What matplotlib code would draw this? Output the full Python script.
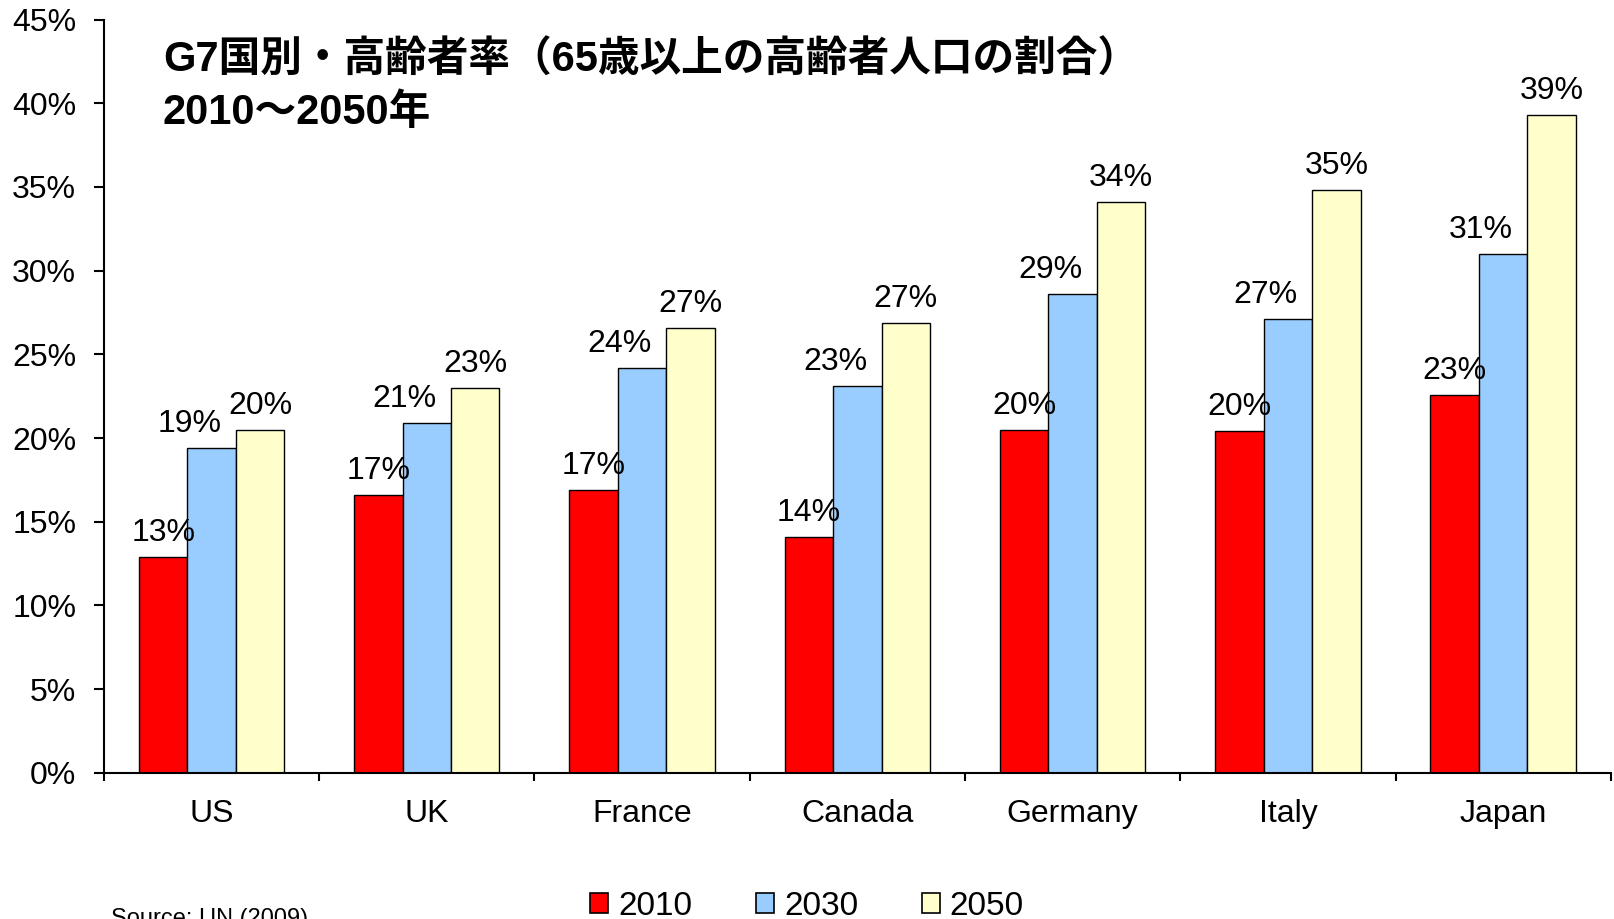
"""G7 국가별 고령자 비율(2010~2050) 막대그래프를 그려 out.png 로 저장합니다."""

import matplotlib.pyplot as plt
import numpy as np
from matplotlib.patches import Patch


# 그래프에 들어가는 데이터입니다. (그림에서 읽은 값, 단위: %)
countries = ["US", "UK", "France", "Canada", "Germany", "Italy", "Japan"]
years = ["2010", "2030", "2050"]
ratio_2010 = [12.9, 16.6, 16.9, 14.1, 20.5, 20.4, 22.6]
ratio_2030 = [19.4, 20.9, 24.2, 23.1, 28.6, 27.1, 31.0]
ratio_2050 = [20.5, 23.0, 26.6, 26.9, 34.1, 34.8, 39.3]
y_ticks = [0, 5, 10, 15, 20, 25, 30, 35, 40, 45]

title_lines = ["G7国別・高齢者率（65歳以上の高齢者人口の割合）", "2010～2050年"]
source_text = "Source: UN (2009)"

colors = ["#FF0000", "#99CCFF", "#FFFFCC"]
# 2030 라벨만 원본처럼 왼쪽으로 조금 치우쳐 있습니다.
label_shift = [0, -16, 0]

plt.rcParams["font.family"] = ["Liberation Sans", "Noto Sans CJK JP", "DejaVu Sans"]


def draw_chart():
    fig = plt.figure(figsize=(16.14, 9.19), dpi=100)
    ax = fig.add_axes([0.0644, 0.159, 0.9336, 0.8197])

    x = np.arange(len(countries))
    width = 0.225
    series = [ratio_2010, ratio_2030, ratio_2050]

    for idx, values in enumerate(series):
        offsets = x + (idx - 1) * width
        ax.bar(offsets, values, width=width, color=colors[idx],
               edgecolor="black", linewidth=1.0, zorder=2)
        for xpos, val in zip(offsets, values):
            ax.annotate(f"{val:.0f}%", xy=(xpos, val),
                        xytext=(label_shift[idx], 11.5), textcoords="offset points",
                        ha="center", va="baseline", fontsize=23, zorder=3)

    ax.set_xlim(-0.5, len(countries) - 0.5)
    ax.set_ylim(0, 45)

    # 축 모양: 왼쪽/아래 축만 남깁니다.
    for side in ["top", "right"]:
        ax.spines[side].set_visible(False)
    for side in ["left", "bottom"]:
        ax.spines[side].set_linewidth(1.5)

    ax.set_yticks(y_ticks)
    ax.set_yticklabels([f"{t}%" for t in y_ticks])
    ax.tick_params(axis="y", direction="out", length=7, width=1.5,
                   pad=13, labelsize=23)

    ax.set_xticks(x)
    ax.set_xticklabels(countries)
    ax.tick_params(axis="x", which="major", length=0, pad=19, labelsize=23)
    ax.set_xticks(np.arange(len(countries) + 1) - 0.5, minor=True)
    ax.tick_params(axis="x", which="minor", direction="out", length=6, width=1.5)

    # 제목 (그래프 영역 안쪽 왼쪽 위)
    for line, ypos in zip(title_lines, [61, 113]):
        fig.text(163 / 1614, 1 - ypos / 919, line, fontsize=30, fontweight="bold",
                 ha="left", va="center")

    handles = [Patch(facecolor=c, edgecolor="black", linewidth=1.2) for c in colors]
    fig.legend(handles, years, loc="center", bbox_to_anchor=(0.5, 0.014), ncol=3,
               frameon=False, fontsize=24, handlelength=0.55, handleheight=0.55,
               handletextpad=0.3, columnspacing=1.9)

    fig.text(111 / 1614, 1 - 908 / 919, source_text, fontsize=17, ha="left", va="top")

    fig.savefig("out.png", dpi=100)


if __name__ == "__main__":
    draw_chart()
